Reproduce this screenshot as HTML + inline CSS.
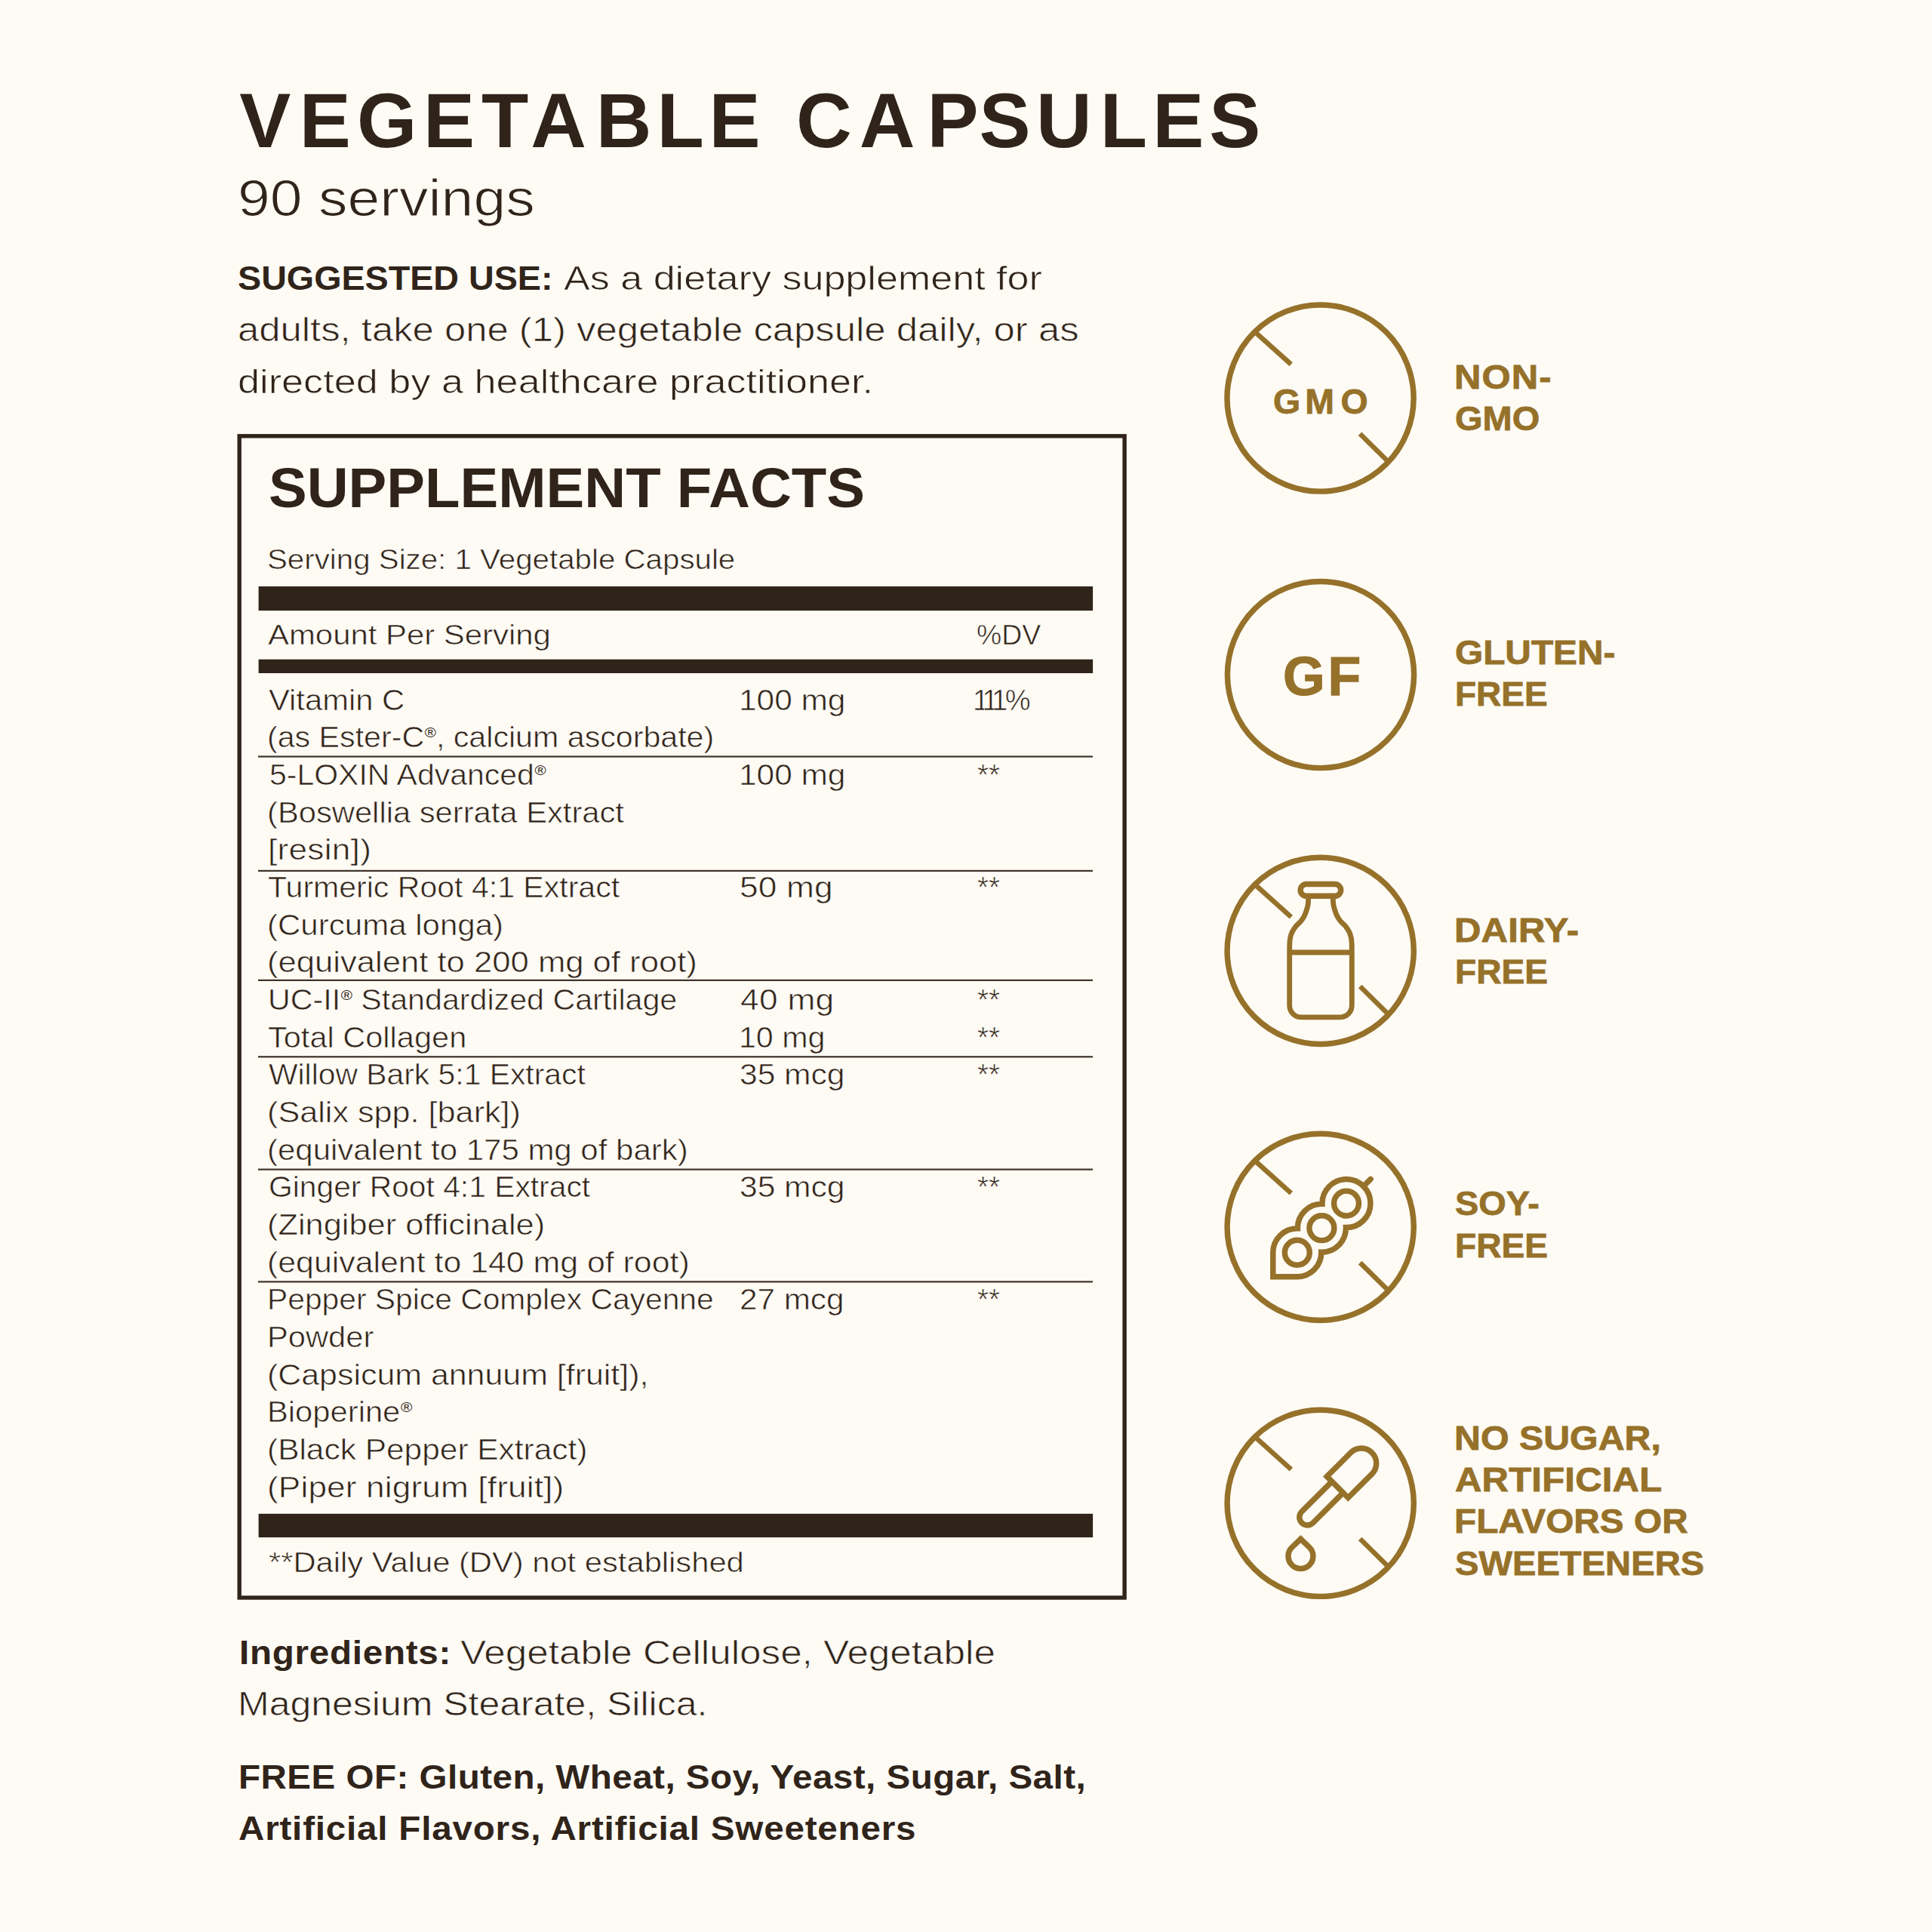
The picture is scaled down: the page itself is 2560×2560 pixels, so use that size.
<!DOCTYPE html>
<html lang="en"><head><meta charset="utf-8"><title>Supplement Facts</title>
<style>
*{margin:0;padding:0;box-sizing:border-box}
html,body{width:2560px;height:2560px;overflow:hidden}
body{--bg:#fefbf5;background:var(--bg);font-family:"Liberation Sans",sans-serif;position:relative}
h1{font-size:inherit;font-weight:inherit;display:contents}
.t{position:absolute;white-space:nowrap;line-height:1;transform-origin:0 0}
.n{-webkit-text-stroke:.016em var(--bg)}
.g{-webkit-text-stroke:.0175em currentColor}
.r{font-size:.5em;position:relative;top:-.66em;line-height:0;margin-left:.03em;-webkit-text-stroke:0}
body{color:#30241a}
svg.ic{position:absolute;left:0;top:0}
</style></head>
<body>
<svg class="ic" width="2560" height="2560" viewBox="0 0 2560 2560" fill="none" stroke="#96712a" stroke-width="48" stroke-linecap="butt" stroke-linejoin="miter">
<rect x="317.20" y="577.80" width="1172.90" height="1539.20" stroke="#30241a" stroke-width="5.4"/>
<rect x="342.6" y="777.0" width="1105.5" height="32.1" fill="#30241a" stroke="none"/>
<rect x="342.6" y="873.7" width="1105.5" height="18.3" fill="#30241a" stroke="none"/>
<rect x="342.6" y="2005.8" width="1105.5" height="31.3" fill="#30241a" stroke="none"/>
<rect x="342" y="1001.4" width="1106" height="2.2" fill="#3d3329" stroke="none"/>
<rect x="342" y="1152.8" width="1106" height="2.2" fill="#3d3329" stroke="none"/>
<rect x="342" y="1297.8" width="1106" height="2.2" fill="#3d3329" stroke="none"/>
<rect x="342" y="1399.2" width="1106" height="2.2" fill="#3d3329" stroke="none"/>
<rect x="342" y="1548.5" width="1106" height="2.2" fill="#3d3329" stroke="none"/>
<rect x="342" y="1697.3" width="1106" height="2.2" fill="#3d3329" stroke="none"/>
<g transform="translate(1600,380) scale(0.15528)">
<circle cx="963" cy="950" r="796"/>
<path stroke-width="42" d="M400 381 L713 662 M1301 1254 L1547 1497"/>

</g>
<g transform="translate(1600,740) scale(0.15528)">
<circle cx="966" cy="992" r="796"/>

</g>
<g transform="translate(1600,1110) scale(0.15528)">
<circle cx="964" cy="965" r="796"/>
<path stroke-width="42" d="M401 396 L714 677 M1302 1269 L1548 1512"/>
<rect x="793" y="396" width="345" height="102" rx="51"/><path stroke-width="44" stroke-linejoin="round" d="M860.6 498.0 C860.6 502.0 861.1 509.7 860.6 522.0 C860.1 534.3 860.2 555.3 857.4 572.0 C854.6 588.7 849.6 605.3 844.0 622.0 C838.4 638.7 832.3 656.4 824.0 672.0 C815.7 687.6 805.7 701.5 794.0 715.4 C782.3 729.3 766.0 740.3 754.0 755.3 C742.0 770.3 730.0 788.6 722.0 805.3 C714.0 822.0 709.5 838.7 706.0 855.4 C702.5 872.1 702.0 886.9 701.0 905.3 C700.0 923.7 700.2 955.9 700.0 966.0 L700 1432 A100 100 0 0 0 800 1532 L1132 1532 A100 100 0 0 0 1232 1432 L1232.0 966.0 C1231.8 955.9 1232.0 923.7 1231.0 905.3 C1230.0 886.9 1229.5 872.1 1226.0 855.4 C1222.5 838.7 1218.0 822.0 1210.0 805.3 C1202.0 788.6 1190.0 770.3 1178.0 755.3 C1166.0 740.3 1149.7 729.3 1138.0 715.4 C1126.3 701.5 1116.3 687.6 1108.0 672.0 C1099.7 656.4 1093.6 638.7 1088.0 622.0 C1082.4 605.3 1077.4 588.7 1074.6 572.0 C1071.8 555.3 1071.9 534.3 1071.4 522.0 C1070.9 509.7 1071.4 502.0 1071.4 498.0 M700 979 L1232 979"/>
</g>
<g transform="translate(1600,1475) scale(0.15528)">
<circle cx="964" cy="971.5" r="796"/>
<path stroke-width="42" d="M401 402.5 L714 683.5 M1302 1275.5 L1548 1518.5"/>
<circle cx="1185" cy="770" r="106"/><circle cx="975" cy="980" r="106"/><circle cx="765" cy="1190" r="106"/><path d="M559 1396 L559 1190 A206 206 0 0 1 769 984 A206 206 0 0 1 979 774 A206 206 0 1 1 1181 976 A206 206 0 0 1 971 1186 A206 206 0 0 1 765 1396 Z"/><path stroke-linecap="round" d="M1331 624 L1392 563"/>
</g>
<g transform="translate(1600,1840) scale(0.15528)">
<circle cx="964" cy="977.5" r="796"/>
<path stroke-width="42" d="M401 408.5 L714 689.5 M1302 1281.5 L1548 1524.5"/>
<path d="M1019 750 L1223.5 545.5 A128 128 0 0 1 1404.5 726.5 L1200 931 Z"/><path d="M1061.5 792.5 L801.5 1052.5 A68 68 0 0 0 897.5 1148.5 L1157.5 888.5"/><path d="M795 1283 L868.4 1353.5 A106 106 0 1 1 721.6 1353.5 Z"/>
</g>
</svg>
<svg class="ic" width="2560" height="2560" viewBox="0 0 2560 2560" font-family="Liberation Sans, sans-serif">
<g role="heading" aria-level="1"><text x="317.3 396.8 473.1 561.0 638.0 703.2 789.8 870.5 939.6 1047.6 1055.1 1138.7 1228.6 1297.6 1373.0 1457.7 1527.2 1602.3" y="195.0" font-size="102" font-weight="700" fill="#30241a">VEGETABLE CAPSULES</text></g>
<text x="1289.0 1301.5 1314.0 1331.8" y="941.0" font-size="38.1" font-weight="400" fill="#30241a" stroke="#fefbf5" stroke-width="0.61">111%</text>
<text x="1687.0 1729.2 1776.5" y="548.0" font-size="46.5" font-weight="700" fill="#96712a" stroke="#96712a" stroke-width="0.81">GMO</text>
<text x="1699.9 1759.5" y="921.0" font-size="71.5" font-weight="700" fill="#96712a" stroke="#96712a" stroke-width="1.25">GF</text>
</svg>
<span class="t n" style="left:315.4px;top:228px;font-size:68px;transform:scaleX(1.1323);">90 servings</span>
<span class="t" style="left:315.2px;top:347px;font-size:44.9px;font-weight:700;transform:scaleX(1.0397);">SUGGESTED USE:</span>
<span class="t n" style="left:746.8px;top:347px;font-size:44.9px;transform:scaleX(1.1599);">As a dietary supplement for</span>
<span class="t n" style="left:315.1px;top:415px;font-size:44.9px;transform:scaleX(1.1317);">adults, take one (1) vegetable capsule daily, or as</span>
<span class="t n" style="left:315.3px;top:484px;font-size:44.9px;letter-spacing:0.06px;transform:scaleX(1.1600);">directed by a healthcare practitioner.</span>
<span class="t" style="left:355.6px;top:610px;font-size:74px;font-weight:700;transform:scaleX(1.0275);">SUPPLEMENT FACTS</span>
<span class="t n" style="left:353.6px;top:723px;font-size:37.8px;transform:scaleX(1.0657);">Serving Size: 1 Vegetable Capsule</span>
<span class="t n" style="left:355.4px;top:823px;font-size:37.8px;transform:scaleX(1.1084);">Amount Per Serving</span>
<span class="t n" style="left:1294.0px;top:823px;font-size:37.8px;transform:scaleX(0.9880);">%DV</span>
<span class="t n" style="left:355.7px;top:909px;font-size:38.1px;transform:scaleX(1.0963);">Vitamin C</span>
<span class="t n" style="left:978.7px;top:909px;font-size:38.1px;transform:scaleX(1.1132);">100 mg</span>
<span class="t n" style="left:353.9px;top:958px;font-size:38.1px;transform:scaleX(1.0810);">(as Ester-C<span class="r">®</span>, calcium ascorbate)</span>
<span class="t n" style="left:356.7px;top:1008px;font-size:38.1px;transform:scaleX(1.0763);">5-LOXIN Advanced<span class="r">®</span></span>
<span class="t n" style="left:978.7px;top:1008px;font-size:38.1px;transform:scaleX(1.1132);">100 mg</span>
<span class="t n" style="left:1295.0px;top:1008px;font-size:38.1px;transform:scaleX(1.0111);">**</span>
<span class="t n" style="left:353.8px;top:1058px;font-size:38.1px;transform:scaleX(1.0956);">(Boswellia serrata Extract</span>
<span class="t n" style="left:354.9px;top:1107px;font-size:38.1px;letter-spacing:0.23px;transform:scaleX(1.1600);">[resin])</span>
<span class="t n" style="left:355.0px;top:1157px;font-size:38.1px;transform:scaleX(1.0780);">Turmeric Root 4:1 Extract</span>
<span class="t n" style="left:979.7px;top:1157px;font-size:38.1px;letter-spacing:0.18px;transform:scaleX(1.1600);">50 mg</span>
<span class="t n" style="left:1295.0px;top:1157px;font-size:38.1px;transform:scaleX(1.0111);">**</span>
<span class="t n" style="left:353.8px;top:1207px;font-size:38.1px;transform:scaleX(1.1040);">(Curcuma longa)</span>
<span class="t n" style="left:353.7px;top:1256px;font-size:38.1px;transform:scaleX(1.1455);">(equivalent to 200 mg of root)</span>
<span class="t n" style="left:355.4px;top:1306px;font-size:38.1px;transform:scaleX(1.0815);">UC-II<span class="r">®</span> Standardized Cartilage</span>
<span class="t n" style="left:980.8px;top:1306px;font-size:38.1px;letter-spacing:0.30px;transform:scaleX(1.1600);">40 mg</span>
<span class="t n" style="left:1295.0px;top:1306px;font-size:38.1px;transform:scaleX(1.0111);">**</span>
<span class="t n" style="left:355.0px;top:1356px;font-size:38.1px;transform:scaleX(1.0908);">Total Collagen</span>
<span class="t n" style="left:978.8px;top:1356px;font-size:38.1px;transform:scaleX(1.0800);">10 mg</span>
<span class="t n" style="left:1295.0px;top:1356px;font-size:38.1px;transform:scaleX(1.0111);">**</span>
<span class="t n" style="left:355.7px;top:1405px;font-size:38.1px;transform:scaleX(1.0723);">Willow Bark 5:1 Extract</span>
<span class="t n" style="left:979.8px;top:1405px;font-size:38.1px;transform:scaleX(1.1167);">35 mcg</span>
<span class="t n" style="left:1295.0px;top:1405px;font-size:38.1px;transform:scaleX(1.0111);">**</span>
<span class="t n" style="left:353.7px;top:1455px;font-size:38.1px;transform:scaleX(1.1341);">(Salix spp. [bark])</span>
<span class="t n" style="left:353.8px;top:1505px;font-size:38.1px;transform:scaleX(1.1024);">(equivalent to 175 mg of bark)</span>
<span class="t n" style="left:355.9px;top:1554px;font-size:38.1px;transform:scaleX(1.0709);">Ginger Root 4:1 Extract</span>
<span class="t n" style="left:979.8px;top:1554px;font-size:38.1px;transform:scaleX(1.1167);">35 mcg</span>
<span class="t n" style="left:1295.0px;top:1554px;font-size:38.1px;transform:scaleX(1.0111);">**</span>
<span class="t n" style="left:353.7px;top:1604px;font-size:38.1px;transform:scaleX(1.1394);">(Zingiber officinale)</span>
<span class="t n" style="left:353.7px;top:1654px;font-size:38.1px;transform:scaleX(1.1252);">(equivalent to 140 mg of root)</span>
<span class="t n" style="left:354.3px;top:1703px;font-size:38.1px;transform:scaleX(1.0711);">Pepper Spice Complex Cayenne</span>
<span class="t n" style="left:979.8px;top:1703px;font-size:38.1px;transform:scaleX(1.1083);">27 mcg</span>
<span class="t n" style="left:1295.0px;top:1703px;font-size:38.1px;transform:scaleX(1.0111);">**</span>
<span class="t n" style="left:354.2px;top:1753px;font-size:38.1px;transform:scaleX(1.0944);">Powder</span>
<span class="t n" style="left:353.7px;top:1803px;font-size:38.1px;transform:scaleX(1.1265);">(Capsicum annuum [fruit]),</span>
<span class="t n" style="left:354.2px;top:1852px;font-size:38.1px;transform:scaleX(1.0959);">Bioperine<span class="r">®</span></span>
<span class="t n" style="left:353.8px;top:1902px;font-size:38.1px;transform:scaleX(1.1144);">(Black Pepper Extract)</span>
<span class="t n" style="left:353.6px;top:1952px;font-size:38.1px;letter-spacing:0.12px;transform:scaleX(1.1600);">(Piper nigrum [fruit])</span>
<span class="t n" style="left:356.4px;top:2052px;font-size:37.8px;transform:scaleX(1.1035);">**Daily Value (DV) not established</span>
<span class="t" style="left:316.7px;top:2168px;font-size:44.9px;font-weight:700;letter-spacing:0.69px;transform:scaleX(1.0600);">Ingredients:</span>
<span class="t n" style="left:609.5px;top:2168px;font-size:44.9px;transform:scaleX(1.1406);">Vegetable Cellulose, Vegetable</span>
<span class="t n" style="left:315.4px;top:2236px;font-size:44.9px;transform:scaleX(1.1135);">Magnesium Stearate, Silica.</span>
<span class="t" style="left:316.4px;top:2333px;font-size:44.9px;font-weight:700;letter-spacing:0.44px;transform:scaleX(1.0600);">FREE OF: Gluten, Wheat, Soy, Yeast, Sugar, Salt,</span>
<span class="t" style="left:316.0px;top:2401px;font-size:44.9px;font-weight:700;letter-spacing:0.75px;transform:scaleX(1.0600);">Artificial Flavors, Artificial Sweeteners</span>
<span class="t g" style="left:1927.3px;top:477px;font-size:45px;font-weight:700;color:#96712a;letter-spacing:0.98px;transform:scaleX(1.0900);">NON-</span>
<span class="t g" style="left:1928.0px;top:532px;font-size:45px;font-weight:700;color:#96712a;transform:scaleX(1.0438);">GMO</span>
<span class="t g" style="left:1927.9px;top:842px;font-size:45px;font-weight:700;color:#96712a;transform:scaleX(1.0621);">GLUTEN-</span>
<span class="t g" style="left:1927.5px;top:897px;font-size:45px;font-weight:700;color:#96712a;transform:scaleX(1.0224);">FREE</span>
<span class="t g" style="left:1927.3px;top:1210px;font-size:45px;font-weight:700;color:#96712a;letter-spacing:0.14px;transform:scaleX(1.0900);">DAIRY-</span>
<span class="t g" style="left:1927.5px;top:1265px;font-size:45px;font-weight:700;color:#96712a;transform:scaleX(1.0250);">FREE</span>
<span class="t g" style="left:1928.0px;top:1572px;font-size:45px;font-weight:700;color:#96712a;transform:scaleX(1.0410);">SOY-</span>
<span class="t g" style="left:1927.5px;top:1628px;font-size:45px;font-weight:700;color:#96712a;transform:scaleX(1.0250);">FREE</span>
<span class="t g" style="left:1927.4px;top:1883px;font-size:45px;font-weight:700;color:#96712a;transform:scaleX(1.0739);">NO SUGAR,</span>
<span class="t g" style="left:1927.5px;top:1938px;font-size:45px;font-weight:700;color:#96712a;letter-spacing:0.17px;transform:scaleX(1.0900);">ARTIFICIAL</span>
<span class="t g" style="left:1927.4px;top:1993px;font-size:45px;font-weight:700;color:#96712a;transform:scaleX(1.0618);">FLAVORS OR</span>
<span class="t g" style="left:1928.0px;top:2049px;font-size:45px;font-weight:700;color:#96712a;transform:scaleX(1.0479);">SWEETENERS</span>
</body></html>
